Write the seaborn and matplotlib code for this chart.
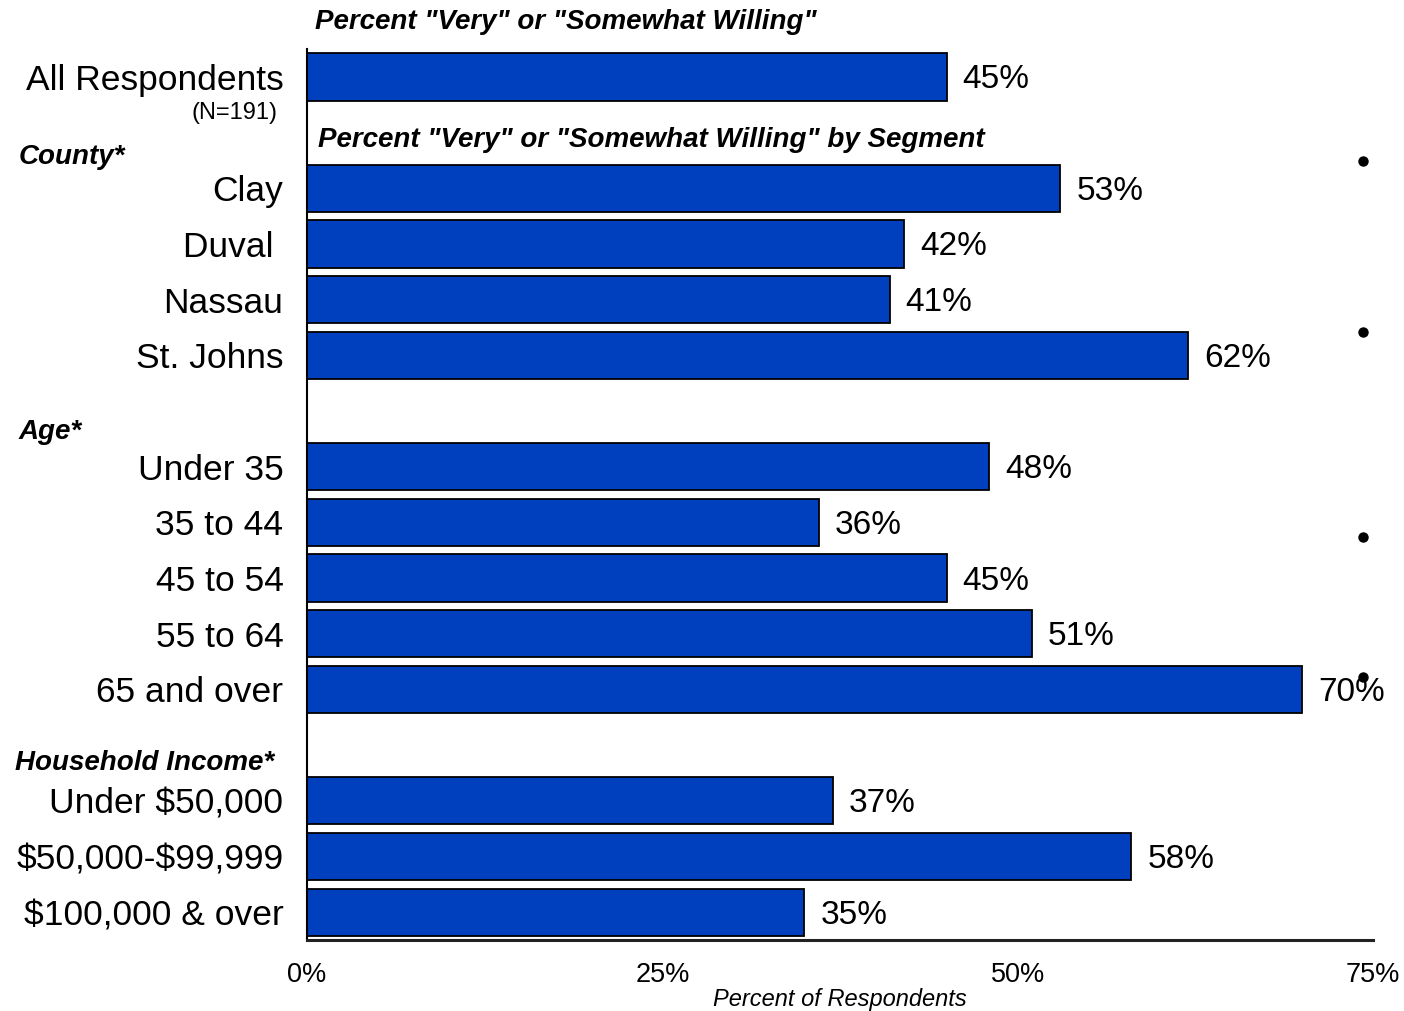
import matplotlib
matplotlib.use("Agg")
import matplotlib.pyplot as plt
import matplotlib.transforms as mtransforms
import seaborn as sns
import pandas as pd

# Segment labels (spacer rows keep the gaps between groups)
categories = ["All Respondents", " ",
              "Clay", "Duval ", "Nassau", "St. Johns", "  ",
              "Under 35", "35 to 44", "45 to 54", "55 to 64", "65 and over", "   ",
              "Under $50,000", "$50,000-$99,999", "$100,000 & over"]
bar_labels = ["All Respondents", "Clay", "Duval ", "Nassau", "St. Johns",
              "Under 35", "35 to 44", "45 to 54", "55 to 64", "65 and over",
              "Under $50,000", "$50,000-$99,999", "$100,000 & over"]
pct_willing = [45, 53, 42, 41, 62, 48, 36, 45, 51, 70, 37, 58, 35]
x_ticks = [0, 25, 50, 75]
x_tick_labels = ["0%", "25%", "50%", "75%"]

sns.set_theme(style="white")
plt.rcParams["font.family"] = ["Liberation Sans", "DejaVu Sans"]
plt.rcParams["text.color"] = "black"
plt.rcParams["axes.labelcolor"] = "black"

df = pd.DataFrame({"segment": bar_labels, "pct": pct_willing})

fig = plt.figure(figsize=(14.04, 10.11), dpi=100)
ax = fig.add_axes([0.2187, 0.0702, 0.7592, 0.8813])

sns.barplot(data=df, x="pct", y="segment", order=categories, orient="h",
            color="#0040BF", saturation=1, width=0.85,
            edgecolor="black", linewidth=1.3, ax=ax)

ax.set_xlim(0, 75)
ax.set_ylim(len(categories) - 0.5, -0.5)
ax.set_xticks(x_ticks)
ax.set_xticklabels(x_tick_labels, fontsize=19.5)
ax.set_yticks(range(len(categories)))
ax.set_yticklabels([c.replace("$", r"\$") for c in categories], fontsize=25.5)
ax.tick_params(axis="x", length=0, pad=16, colors="black")
ax.tick_params(axis="y", length=0, pad=17, colors="black")
ax.set_ylabel("")
ax.set_xlabel("Percent of Respondents", fontsize=17, fontstyle="italic")
ax.xaxis.set_label_coords(0.5, -0.054)

for s in ["top", "right"]:
    ax.spines[s].set_visible(False)
ax.spines["left"].set_color("black")
ax.spines["left"].set_linewidth(1.5)
ax.spines["bottom"].set_color("#222222")
ax.spines["bottom"].set_linewidth(2.2)

# Value labels beside each bar
for c in ax.containers:
    for rect, v in zip(c.patches, c.datavalues):
        yc = rect.get_y() + rect.get_height() / 2
        ax.annotate(f"{v:.0f}%", xy=(v, yc), xytext=(11.5, -2.2),
                    textcoords="offset points", ha="left", va="center",
                    fontsize=24, color="black", annotation_clip=False)

# Group headings and notes in the left margin
trans = mtransforms.blended_transform_factory(ax.transAxes, ax.transData)
head = dict(fontsize=20, fontweight="bold", fontstyle="italic", va="center", ha="left",
            transform=trans, clip_on=False)
ax.text(-0.271, 1.44, "County*", **head)
ax.text(-0.271, 6.38, "Age*", **head)
ax.text(-0.274, 12.33, "Household Income*", **head)
ax.text(-0.028, 0.65, "(N=191)", fontsize=17, ha="right", va="center",
        transform=trans, clip_on=False)

title = dict(fontsize=20, fontweight="bold", fontstyle="italic", va="center", ha="left",
             transform=trans, clip_on=False)
ax.text(0.0075, -0.98, 'Percent "Very" or "Somewhat Willing"', **title)
ax.text(0.0105, 1.14, 'Percent "Very" or "Somewhat Willing" by Segment', **title)

# Stray bullet marks at the right edge
bullet_y = [1.51, 4.58, 8.26, 10.78]
ax.plot([74.3] * len(bullet_y), bullet_y, ls="none", marker="o", ms=6.5,
        color="black", clip_on=False)

fig.savefig("out.png", dpi=100)
